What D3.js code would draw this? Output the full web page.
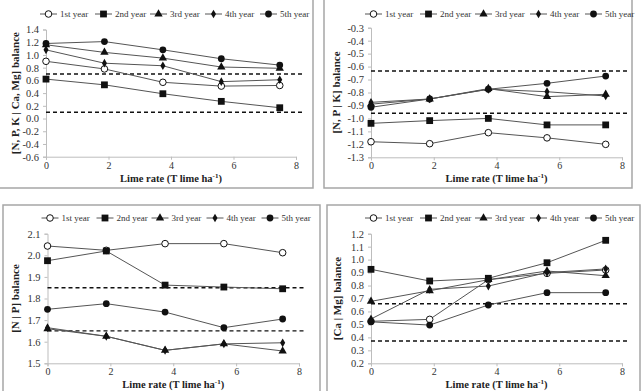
<!DOCTYPE html>
<meta charset="utf-8">
<head>
    <style>
        body { margin: 0; background: #fff; }
        svg, text { font-family: "Liberation Serif", "DejaVu Serif", serif; }
    </style>
    <script src="https://d3js.org/d3.v7.min.js"></script>
</head>
<body></body>
<script>

    // lime rates (T lime ha-1), shared x values of every series
    var limeRates = [0, 1.87, 3.74, 5.61, 7.48];
    var years = ["1st year", "2nd year", "3rd year", "4th year", "5th year"];
    var xTicks = [0, 2, 4, 6, 8];

    // [N, P, K | Ca, Mg] balance, one row per year
    var npkCaMg = [
        [0.90, 0.78, 0.57, 0.51, 0.52],
        [0.62, 0.53, 0.39, 0.27, 0.17],
        [1.16, 1.04, 0.95, 0.81, 0.79],
        [1.08, 0.87, 0.83, 0.58, 0.61],
        [1.18, 1.21, 1.08, 0.94, 0.84]
    ];
    var npkCaMgRefs = [0.70, 0.10];
    var npkCaMgTicks = [1.4, 1.2, 1.0, 0.8, 0.6, 0.4, 0.2, 0.0, -0.2, -0.4, -0.6];

    // [N, P | K] balance
    var npK = [
        [-1.18, -1.195, -1.11, -1.15, -1.20],
        [-1.038, -1.017, -1.00, -1.05, -1.05],
        [-0.89, -0.85, -0.77, -0.832, -0.814],
        [-0.876, -0.85, -0.775, -0.794, -0.827],
        [-0.914, -0.85, -0.775, -0.729, -0.673]
    ];
    var npKRefs = [-0.634, -0.96];
    var npKTicks = [-0.3, -0.4, -0.5, -0.6, -0.7, -0.8, -0.9, -1.0, -1.1, -1.2, -1.3];

    // [N | P] balance
    var nP = [
        [2.043, 2.023, 2.054, 2.054, 2.012],
        [1.975, 2.02, 1.862, 1.853, 1.845],
        [1.66, 1.625, 1.56, 1.59, 1.557],
        [1.665, 1.625, 1.56, 1.59, 1.595],
        [1.75, 1.776, 1.737, 1.665, 1.705]
    ];
    var nPRefs = [1.85, 1.65];
    var nPTicks = [2.1, 2.0, 1.9, 1.8, 1.7, 1.6, 1.5];

    // [Ca | Mg] balance
    var caMg = [
        [0.524, 0.539, 0.845, 0.894, 0.92],
        [0.925, 0.835, 0.856, 0.976, 1.149],
        [0.678, 0.76, 0.845, 0.912, 0.876],
        [0.542, 0.771, 0.796, 0.90, 0.928],
        [0.52, 0.495, 0.65, 0.745, 0.745]
    ];
    var caMgRefs = [0.66, 0.372];
    var caMgTicks = [1.2, 1.1, 1.0, 0.9, 0.8, 0.7, 0.6, 0.5, 0.4, 0.3, 0.2];

    var width = 644, height = 391,
        serif = "'Liberation Serif', 'DejaVu Serif', serif";

    var svg = d3.select("body").append("svg")
        .attr("width", width)
        .attr("height", height)
        .attr("font-family", serif);

    var panels = [
        { label: "[N, P, K | Ca, Mg] balance", values: npkCaMg, refs: npkCaMgRefs, ticks: npkCaMgTicks,
          frame: [-2, -2, 313, 188], plot: [46, 29.5, 296, 156.7], legendY: 14, labelX: 15 },
        { label: "[N, P | K] balance", values: npK, refs: npKRefs, ticks: npKTicks,
          frame: [324, -2, 632, 188], plot: [371, 27.7, 622, 157.3], legendY: 14, labelX: 336 },
        { label: "[N | P] balance", values: nP, refs: nPRefs, ticks: nPTicks,
          frame: [3, 205, 320, 393], plot: [47.5, 233.7, 299, 363.3], legendY: 218, labelX: 15 },
        { label: "[Ca | Mg] balance", values: caMg, refs: caMgRefs, ticks: caMgTicks,
          frame: [327, 205, 640, 393], plot: [371, 233.7, 622, 363.3], legendY: 218, labelX: 337 }
    ];

    // marker shape per year
    function marker(sel, i) {
        if (i == 0) {
            sel.append("circle").attr("r", 3.3).attr("fill", "#fff").attr("stroke", "#111").attr("stroke-width", 1);
        } else if (i == 1) {
            sel.append("rect").attr("x", -3.4).attr("y", -3.4).attr("width", 6.8).attr("height", 6.8).attr("fill", "#111");
        } else if (i == 2) {
            sel.append("path").attr("d", d3.symbol(d3.symbolTriangle, 30)()).attr("fill", "#111");
        } else if (i == 3) {
            sel.append("path").attr("d", d3.symbol(d3.symbolDiamond, 22)()).attr("fill", "#111");
        } else {
            sel.append("circle").attr("r", 3.4).attr("fill", "#111");
        }
    }

    panels.forEach(function(p) {

        var g = svg.append("g");

        g.append("rect")
            .attr("x", p.frame[0]).attr("y", p.frame[1])
            .attr("width", p.frame[2] - p.frame[0]).attr("height", p.frame[3] - p.frame[1])
            .attr("fill", "none").attr("stroke", "#a6a6a6").attr("stroke-width", 1.5);

        var x = d3.scaleLinear().domain([0, 8]).range([p.plot[0], p.plot[2]]);
        var y = d3.scaleLinear().domain(d3.extent(p.ticks)).range([p.plot[3], p.plot[1]]);

        var yAxis = g.append("g")
            .attr("transform", "translate(" + p.plot[0] + ",0)")
            .call(d3.axisLeft(y).tickValues(p.ticks).tickSize(3).tickPadding(4));
        var xAxis = g.append("g")
            .attr("transform", "translate(0," + p.plot[3] + ")")
            .call(d3.axisBottom(x).tickValues(xTicks).tickSize(3).tickPadding(2));

        [yAxis, xAxis].forEach(function(a) {
            a.attr("font-family", serif);
            a.select(".domain").attr("stroke", "#bdbdbd");
            a.selectAll(".tick line").attr("stroke", "#bdbdbd");
            a.selectAll("text").attr("fill", "#333").style("font-size", "10.5px");
        });
        xAxis.selectAll("text").style("font-size", "10px");
        yAxis.selectAll(".tick text").text(function(d) { return d3.format(".1f")(d).replace("\u2212", "-"); });

        // reference lines
        g.selectAll(".ref").data(p.refs).enter().append("line")
            .attr("x1", p.plot[0]).attr("x2", p.plot[2] + 6)
            .attr("y1", function(d) { return y(d); }).attr("y2", function(d) { return y(d); })
            .attr("stroke", "#111").attr("stroke-width", 1.4).attr("stroke-dasharray", "4,3");

        var line = d3.line()
            .x(function(d, i) { return x(limeRates[i]); })
            .y(function(d) { return y(d); });

        p.values.forEach(function(vals) {
            g.append("path").attr("d", line(vals))
                .attr("fill", "none").attr("stroke", "#555").attr("stroke-width", 1);
        });
        p.values.forEach(function(vals, s) {
            vals.forEach(function(v, i) {
                var m = g.append("g").attr("transform", "translate(" + x(limeRates[i]) + "," + y(v) + ")");
                marker(m, s);
            });
        });

        // legend
        years.forEach(function(name, i) {
            var lx = p.plot[0] - 6 + i * 55;
            var lg = g.append("g").attr("transform", "translate(" + lx + "," + p.legendY + ")");
            lg.append("line").attr("x1", 0).attr("x2", 17).attr("stroke", "#555").attr("stroke-width", 1);
            var m = lg.append("g").attr("transform", "translate(8.5,0)");
            marker(m, i);
            lg.append("text").attr("x", 20).attr("y", 3).style("font-size", "9px").attr("fill", "#333").text(name);
        });

        // axis titles
        var cx = (p.plot[0] + p.plot[2]) / 2;
        var t = g.append("text")
            .attr("x", cx).attr("y", p.plot[3] + 25)
            .attr("text-anchor", "middle")
            .style("font-size", "10.5px").style("font-weight", "bold").attr("fill", "#222");
        t.append("tspan").text("Lime rate (T lime ha");
        t.append("tspan").attr("dy", -4).style("font-size", "7px").text("-1");
        t.append("tspan").attr("dy", 4).text(")");

        g.append("text")
            .attr("transform", "translate(" + p.labelX + "," + ((p.plot[1] + p.plot[3]) / 2) + ") rotate(-90)")
            .attr("text-anchor", "middle").attr("dy", "0.35em")
            .style("font-size", "11px").style("font-weight", "bold").attr("fill", "#222")
            .text(p.label);
    });

</script>
